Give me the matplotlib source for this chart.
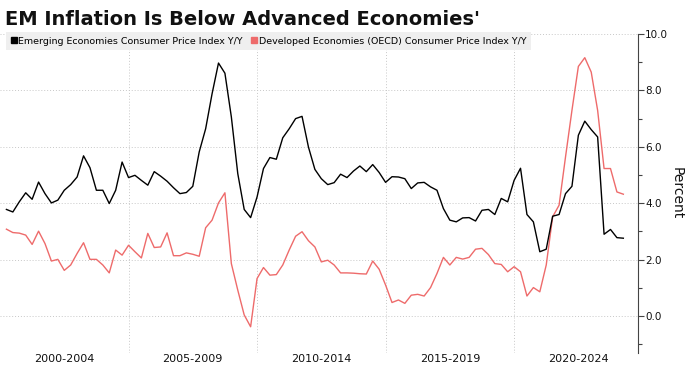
import numpy as np
import pandas as pd
import matplotlib
matplotlib.use('Agg')
import matplotlib.pyplot as plt
from matplotlib.lines import Line2D
from matplotlib.ticker import MultipleLocator, FormatStrFormatter

# Quarterly CPI Y/Y, 2000Q1 - 2024Q1
quarters = pd.period_range('2000Q1', '2024Q1', freq='Q')
em_cpi = [3.78, 3.69, 4.05, 4.37, 4.14, 4.75, 4.34, 4.01, 4.11, 4.46,
          4.66, 4.93, 5.68, 5.26, 4.46, 4.46, 3.99, 4.46, 5.46, 4.91,
          4.99, 4.81, 4.64, 5.12, 4.96, 4.78, 4.55, 4.34, 4.38, 4.60,
          5.82, 6.64, 7.88, 8.97, 8.61, 7.06, 5.05, 3.78, 3.49, 4.22,
          5.23, 5.62, 5.56, 6.32, 6.64, 7.00, 7.08, 5.99, 5.20, 4.87,
          4.66, 4.73, 5.03, 4.91, 5.14, 5.32, 5.12, 5.37, 5.09, 4.74,
          4.94, 4.93, 4.87, 4.52, 4.72, 4.74, 4.58, 4.46, 3.81, 3.40,
          3.34, 3.48, 3.49, 3.37, 3.75, 3.78, 3.60, 4.17, 4.05, 4.81,
          5.24, 3.60, 3.34, 2.28, 2.37, 3.54, 3.60, 4.34, 4.60, 6.41,
          6.91, 6.61, 6.35, 2.90, 3.07, 2.78, 2.76]
dm_cpi = [3.08, 2.96, 2.94, 2.87, 2.54, 3.01, 2.57, 1.95, 2.01, 1.62,
          1.81, 2.22, 2.60, 2.01, 2.01, 1.81, 1.53, 2.34, 2.16, 2.51,
          2.28, 2.06, 2.93, 2.43, 2.45, 2.95, 2.14, 2.14, 2.24, 2.19,
          2.12, 3.13, 3.40, 4.01, 4.37, 1.86, 0.92, 0.04, -0.38, 1.33,
          1.72, 1.45, 1.47, 1.81, 2.34, 2.83, 2.99, 2.67, 2.45, 1.92,
          1.98, 1.81, 1.53, 1.53, 1.52, 1.50, 1.49, 1.95, 1.66, 1.10,
          0.48, 0.57, 0.45, 0.74, 0.77, 0.71, 1.01, 1.51, 2.08, 1.81,
          2.08, 2.02, 2.08, 2.37, 2.40, 2.18, 1.86, 1.83, 1.57, 1.75,
          1.57, 0.71, 1.01, 0.86, 1.81, 3.52, 3.93, 5.64, 7.29, 8.85,
          9.16, 8.65, 7.29, 5.23, 5.23, 4.40, 4.32]
period_labels = ['2000-2004', '2005-2009', '2010-2014', '2015-2019', '2020-2024']
period_starts = [2000, 2005, 2010, 2015, 2020]

em_label = 'Emerging Economies Consumer Price Index Y/Y'
dm_label = 'Developed Economies (OECD) Consumer Price Index Y/Y'
black = '#000000'
red = '#EE6B6B'

# quarter-end as decimal year
x = np.asarray(quarters.year + quarters.quarter * 0.25, dtype=float)

W, H = 691, 368
fig = plt.figure(figsize=(W / 100, H / 100), dpi=100)
ax = fig.add_axes([0.0, 1 - 353 / H, 638 / W, (353 - 34) / H])

ax.plot(x, em_cpi, color=black, lw=1.0, zorder=3)
ax.plot(x, dm_cpi, color=red, lw=1.0, zorder=2)

ax.set_xlim(2000, 2024.82)
ax.set_ylim(-1.31, 10.0)

# right hand axis
for s in ['left', 'top', 'bottom']:
    ax.spines[s].set_visible(False)
ax.spines['right'].set_color('#444444')
ax.spines['right'].set_linewidth(0.8)
ax.yaxis.tick_right()
ax.yaxis.set_label_position('right')
ax.yaxis.set_major_locator(MultipleLocator(2))
ax.yaxis.set_minor_locator(MultipleLocator(1))
ax.yaxis.set_major_formatter(FormatStrFormatter('%.1f'))
ax.tick_params(axis='y', which='major', length=4, width=0.8, color='#444444',
               labelsize=7.5, labelcolor='#111111', pad=1)
ax.tick_params(axis='y', which='minor', length=3, width=0.8, color='#444444')
ax.set_ylabel('Percent', rotation=270, fontsize=10, color='#111111', labelpad=11)

# period labels centred in each 5 year block
ax.set_xticks([p + 2.5 for p in period_starts])
ax.set_xticklabels(period_labels, fontsize=8, color='#111111')
ax.tick_params(axis='x', length=0, pad=0.5)

# dotted grid
for v in range(0, 11, 2):
    ax.axhline(v, color='#c8c8c8', lw=0.7, ls=(0, (1, 2)), zorder=1)
for p in period_starts[1:]:
    ax.axvline(p, color='#c8c8c8', lw=0.7, ls=(0, (1, 2)), zorder=1)

fig.text(5 / W, 1 - 25 / H, "EM Inflation Is Below Advanced Economies'",
         fontsize=14, fontweight='bold', color='#111111', ha='left', va='baseline')

handles = [Line2D([], [], ls='none', marker='s', markersize=5, color=black),
           Line2D([], [], ls='none', marker='s', markersize=5, color=red)]
leg = fig.legend(handles, [em_label, dm_label], loc='upper left',
                 bbox_to_anchor=(6 / W, 1 - 32 / H), ncol=2, fontsize=6.8,
                 frameon=True, fancybox=False, borderaxespad=0, borderpad=0.5,
                 handlelength=0.6, handletextpad=0.2, columnspacing=0.9)
leg.get_frame().set_facecolor('#efefef')
leg.get_frame().set_edgecolor('none')
leg.get_frame().set_alpha(1)

fig.savefig('out.png', dpi=100)
